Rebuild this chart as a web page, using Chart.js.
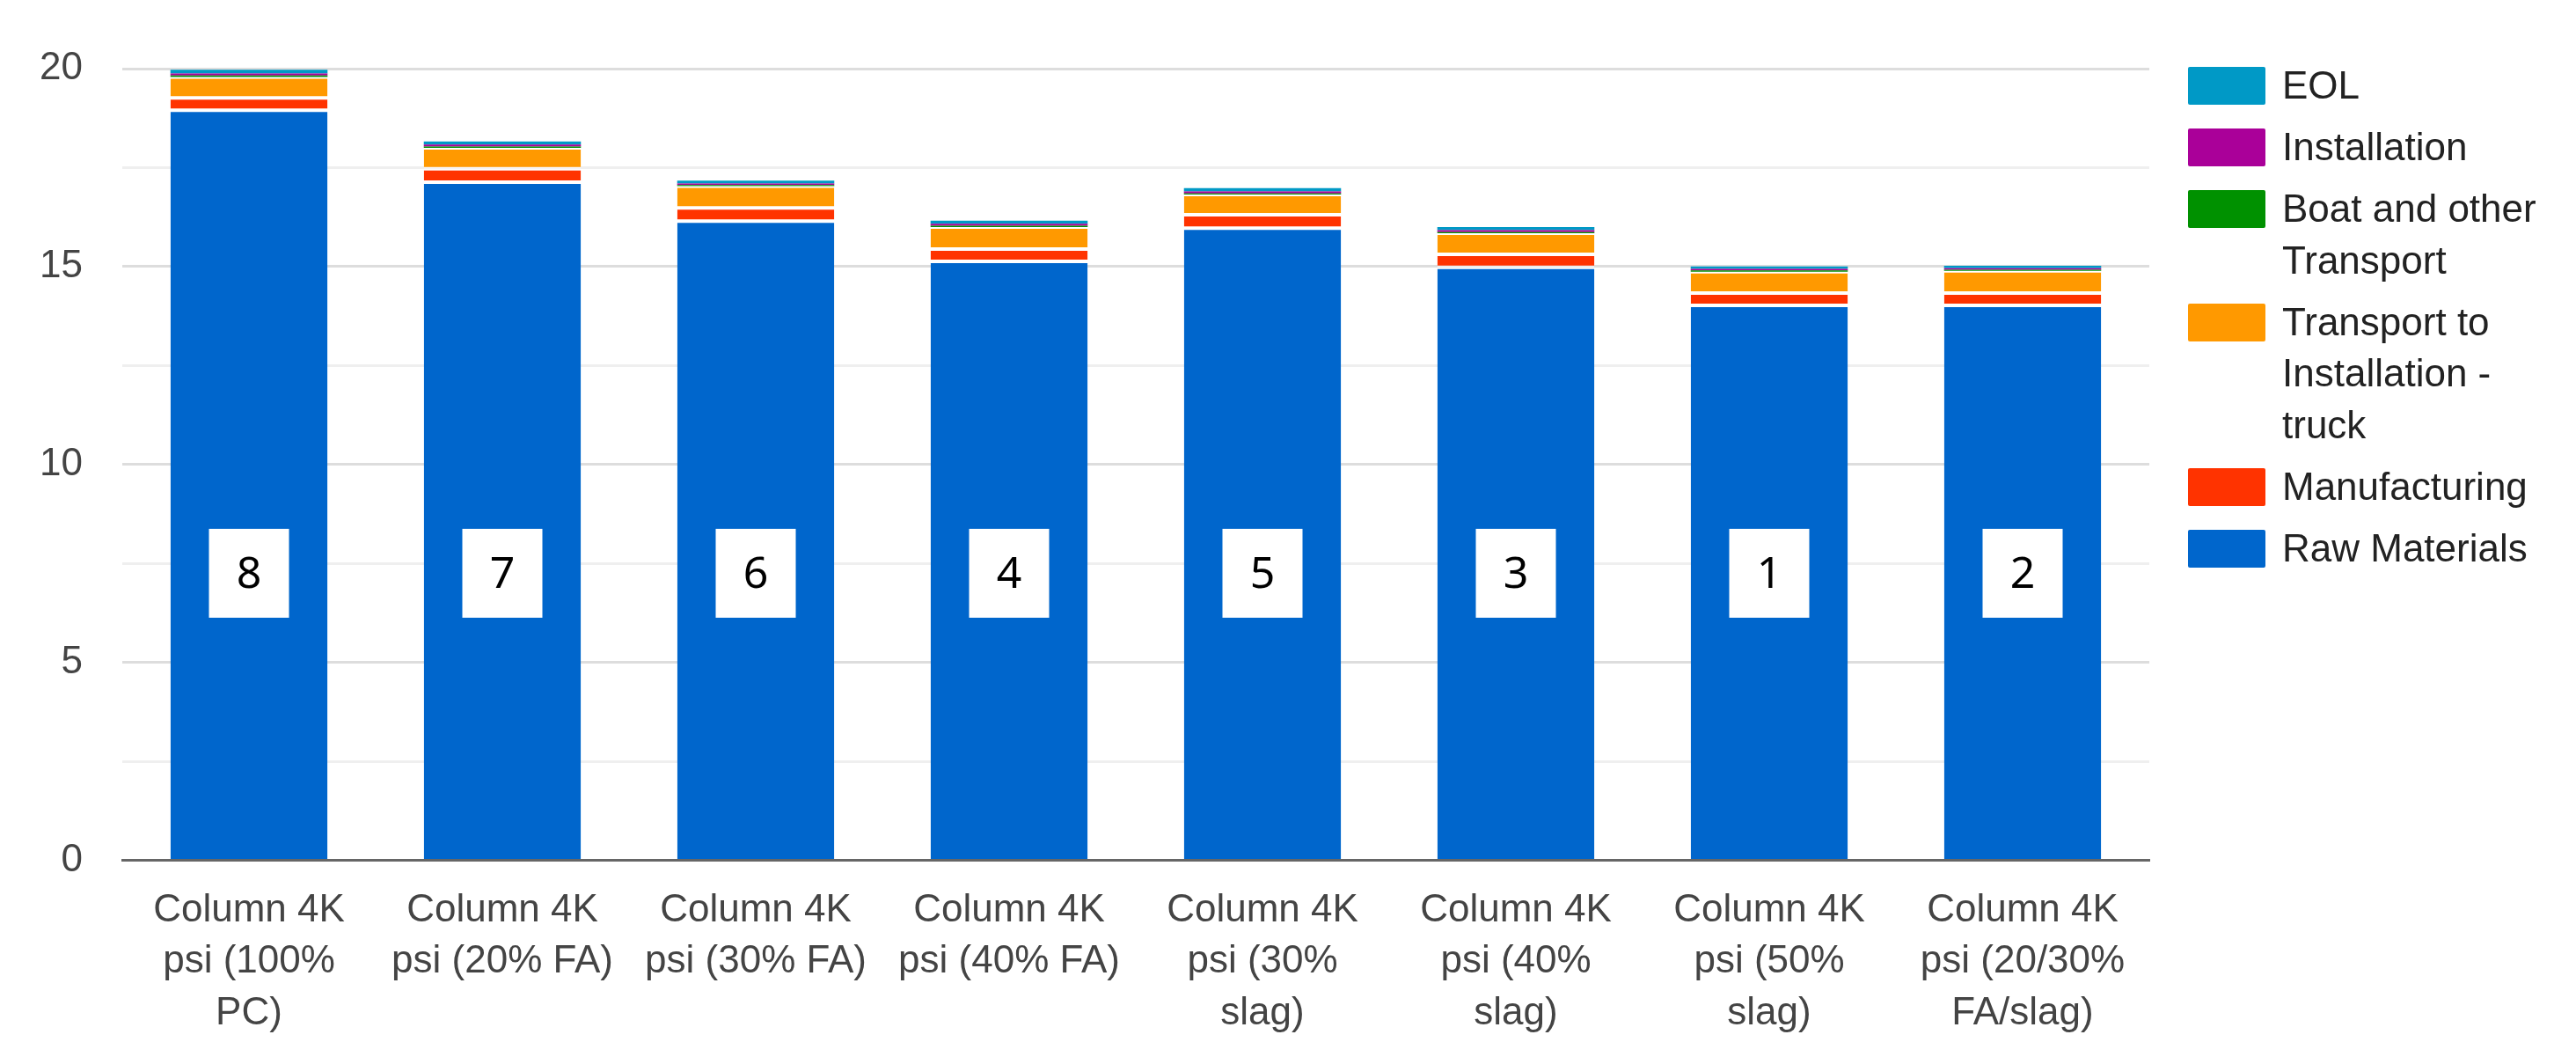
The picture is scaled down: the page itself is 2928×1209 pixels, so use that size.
<!DOCTYPE html>
<html>
<head>
<meta charset="utf-8">
<script src="https://cdn.jsdelivr.net/npm/chart.js@4/dist/chart.umd.min.js"></script>
<style>
  body { margin: 0; background: #fff; }
  #wrap { position: relative; width: 2928px; height: 1209px; }
  #legend { position: absolute; left: 2487px; top: 68px; font: 44px 'Liberation Sans', Arial, sans-serif; color: #222; }
  .item { display: flex; align-items: flex-start; margin-bottom: 11.5px; }
  .sw { width: 88px; height: 43px; margin-top: 8px; margin-right: 19px; border-radius: 2px; flex: none; }
  .txt { line-height: 58.5px; }
</style>
</head>
<body>
<div id="wrap">
  <canvas id="grafic" width="2928" height="1209"></canvas>
  <div id="legend"></div>
</div>
<script>
const categories = [
    ['Column 4K', 'psi (100%', 'PC)'],
    ['Column 4K', 'psi (20% FA)'],
    ['Column 4K', 'psi (30% FA)'],
    ['Column 4K', 'psi (40% FA)'],
    ['Column 4K', 'psi (30%', 'slag)'],
    ['Column 4K', 'psi (40%', 'slag)'],
    ['Column 4K', 'psi (50%', 'slag)'],
    ['Column 4K', 'psi (20/30%', 'FA/slag)']
];

const rawMaterials   = [18.95, 17.13, 16.15, 15.13, 15.97, 14.98, 14.02, 14.02];
const manufacturing  = [0.31, 0.34, 0.33, 0.31, 0.34, 0.33, 0.31, 0.31];
const truckTransport = [0.53, 0.53, 0.55, 0.56, 0.51, 0.53, 0.54, 0.56];
const boatTransport  = [0.04, 0.03, 0.03, 0.03, 0.03, 0.03, 0.03, 0.03];
const installation   = [0.05, 0.05, 0.04, 0.05, 0.05, 0.05, 0.04, 0.04];
const eol            = [0.09, 0.08, 0.07, 0.08, 0.08, 0.08, 0.06, 0.06];

// rang de cada mescla (caixeta blanca sobre la barra)
const rankLabels = ['8', '7', '6', '4', '5', '3', '1', '2'];
const rankLevel = 7.25;

const yMin = 0, yMax = 20, yStep = 2.5;

const sep = 'rgba(255,255,255,0.55)';

const rankBoxes = {
    id: 'rankBoxes',
    afterDatasetsDraw(chart) {
        const { ctx, scales: { x, y } } = chart;
        ctx.save();
        ctx.font = "50px 'Noto Sans', sans-serif";
        ctx.textAlign = 'center';
        ctx.textBaseline = 'middle';
        rankLabels.forEach((r, i) => {
            const cx = x.getPixelForValue(i);
            const cy = y.getPixelForValue(rankLevel);
            ctx.fillStyle = '#fff';
            ctx.fillRect(cx - 45.5, cy - 50.5, 91, 101);
            ctx.fillStyle = '#000';
            ctx.fillText(r, cx, cy + 2);
        });
        ctx.restore();
    }
};

const ctx = document.getElementById('grafic');

const chart = new Chart(ctx, {
    type: 'bar',
    data: {
        labels: categories,
        datasets: [
            { label: 'Raw Materials', data: rawMaterials, backgroundColor: '#0066CC',
              borderColor: sep, borderWidth: { top: 2, bottom: 0, left: 0, right: 0 }, borderSkipped: false },
            { label: 'Manufacturing', data: manufacturing, backgroundColor: '#FF3300',
              borderColor: sep, borderWidth: { top: 2, bottom: 2, left: 0, right: 0 }, borderSkipped: false },
            { label: ['Transport to', 'Installation -', 'truck'], data: truckTransport, backgroundColor: '#FF9900',
              borderColor: sep, borderWidth: { top: 2, bottom: 2, left: 0, right: 0 }, borderSkipped: false },
            { label: ['Boat and other', 'Transport'], data: boatTransport, backgroundColor: '#009100', borderWidth: 0 },
            { label: 'Installation', data: installation, backgroundColor: '#AA0099', borderWidth: 0 },
            { label: 'EOL', data: eol, backgroundColor: '#0099C6', borderWidth: 0 }
        ]
    },
    options: {
        responsive: false,
        devicePixelRatio: 1,
        animation: false,
        datasets: { bar: { barPercentage: 0.62, categoryPercentage: 1 } },
        layout: { padding: { left: 45, right: 485, top: 78, bottom: 8 } },
        plugins: {
            legend: { display: false },
            tooltip: { enabled: false }
        },
        scales: {
            x: {
                stacked: true,
                grid: { display: false },
                border: { display: true, color: '#666', width: 3 },
                ticks: {
                    color: '#444',
                    padding: 20,
                    maxRotation: 0,
                    autoSkip: false,
                    font: { family: "'Liberation Sans', Arial, sans-serif", size: 44, lineHeight: 1.33 }
                }
            },
            y: {
                stacked: true,
                min: yMin,
                max: yMax,
                border: { display: false },
                afterFit: s => { s.width = 94; },
                grid: {
                    drawTicks: false,
                    lineWidth: 3,
                    color: c => c.tick.value === 0 ? 'rgba(0,0,0,0)' : (c.tick.value % 5 === 0 ? '#dddddd' : '#efefef')
                },
                ticks: {
                    stepSize: yStep,
                    color: '#444',
                    padding: 45,
                    font: { family: "'Liberation Sans', Arial, sans-serif", size: 44 },
                    callback: v => v % 5 === 0 ? v : ''
                }
            }
        }
    },
    plugins: [rankBoxes]
});

// llegenda a la dreta, d'EOL cap avall com a l'original
const legend = document.getElementById('legend');
chart.data.datasets.slice().reverse().forEach(ds => {
    const item = document.createElement('div');
    item.className = 'item';
    const sw = document.createElement('div');
    sw.className = 'sw';
    sw.style.background = ds.backgroundColor;
    const txt = document.createElement('div');
    txt.className = 'txt';
    txt.innerHTML = [].concat(ds.label).join('<br>');
    item.appendChild(sw);
    item.appendChild(txt);
    legend.appendChild(item);
});
</script>
</body>
</html>
